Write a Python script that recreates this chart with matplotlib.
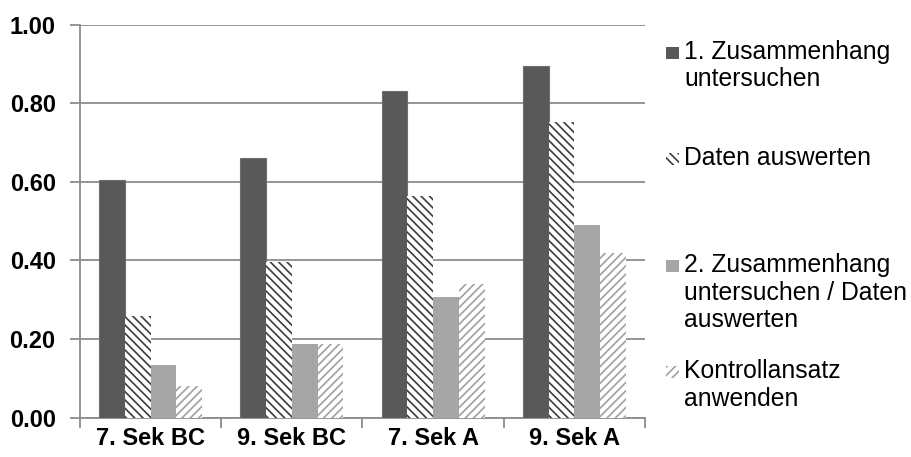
import matplotlib
matplotlib.use("Agg")
import matplotlib.pyplot as plt
from matplotlib.patches import Rectangle
from matplotlib.ticker import FormatStrFormatter, FixedLocator
import numpy as np

categories = ["7. Sek BC", "9. Sek BC", "7. Sek A", "9. Sek A"]
series_names = ["1. Zusammenhang\nuntersuchen",
                "Daten auswerten",
                "2. Zusammenhang\nuntersuchen / Daten\nauswerten",
                "Kontrollansatz\nanwenden"]
zusammenhang1 = [0.604, 0.661, 0.831, 0.894]
daten_auswerten = [0.259, 0.396, 0.565, 0.753]
zusammenhang2 = [0.135, 0.188, 0.306, 0.490]
kontrollansatz = [0.080, 0.188, 0.341, 0.420]
yticks = [0.0, 0.2, 0.4, 0.6, 0.8, 1.0]

series = [zusammenhang1, daten_auswerten, zusammenhang2, kontrollansatz]
styles = [
    dict(color="#595959", edgecolor="#6e6e6e", linewidth=0.8, hatch=None),
    dict(color="white", edgecolor="#3c3c3c", linewidth=0, hatch="\\\\\\\\"),
    dict(color="#a6a6a6", edgecolor="#a6a6a6", linewidth=0, hatch=None),
    dict(color="white", edgecolor="#a0a0a0", linewidth=0, hatch="////"),
]

plt.rcParams["font.family"] = ["Liberation Sans", "DejaVu Sans"]
plt.rcParams["hatch.linewidth"] = 1.2

W, H = 912, 457
fig = plt.figure(figsize=(W / 100, H / 100), dpi=100)
x0, x1, ytop, ybot = 80, 645, 24.5, 417.7
ax = fig.add_axes([x0 / W, 1 - ybot / H, (x1 - x0) / W, (ybot - ytop) / H])

x = np.arange(len(categories))
w = 0.182
for j, (vals, st) in enumerate(zip(series, styles)):
    ax.bar(x + (j - 1.5) * w, vals, w, color=st["color"], edgecolor=st["edgecolor"],
           linewidth=st["linewidth"], hatch=st["hatch"], zorder=3)

grid_c = "#8c8c8c"
ax.set_xlim(-0.5, len(categories) - 0.5)
ax.set_ylim(0, 1.0)
ax.yaxis.set_major_locator(FixedLocator(yticks))
ax.yaxis.set_major_formatter(FormatStrFormatter("%.2f"))
ax.grid(axis="y", color=grid_c, linewidth=1.3, zorder=0)
ax.set_axisbelow(True)

ax.xaxis.set_major_locator(FixedLocator(np.arange(len(categories) + 1) - 0.5))
ax.xaxis.set_minor_locator(FixedLocator(x))
ax.set_xticklabels([], minor=False)
ax.set_xticklabels(categories, minor=True)
ax.tick_params(axis="x", which="major", length=7, width=1.3, color=grid_c, direction="out")
ax.tick_params(axis="x", which="minor", length=0, pad=7, labelsize=17, labelcolor="black")
ax.tick_params(axis="y", length=7, width=1.3, color=grid_c, direction="out", pad=10.5,
               labelsize=17, labelcolor="black")
for lab in ax.get_xticklabels(minor=True) + ax.get_yticklabels():
    lab.set_fontweight("bold")

for s in ["top", "right"]:
    ax.spines[s].set_visible(False)
for s in ["left", "bottom"]:
    ax.spines[s].set_color(grid_c)
    ax.spines[s].set_linewidth(1.3)

# legend (manual, to reproduce the irregular vertical layout)
first_baselines = [59, 165, 272, 378]
line_step = 27.5
for name, st, yb in zip(series_names, styles, first_baselines):
    rx, ry, rw, rh = 666, yb - 12, 13, 12
    rect = Rectangle((rx / W, 1 - (ry + rh) / H), rw / W, rh / H,
                     transform=fig.transFigure, facecolor=st["color"],
                     edgecolor=st["edgecolor"] if st["hatch"] else "none",
                     linewidth=0, hatch=st["hatch"])
    fig.patches.append(rect)
    for k, line in enumerate(name.split("\n")):
        fig.text(684 / W, 1 - (yb + k * line_step) / H, line, fontsize=17.8,
                 ha="left", va="baseline", color="black")

fig.savefig("out.png", dpi=100)
